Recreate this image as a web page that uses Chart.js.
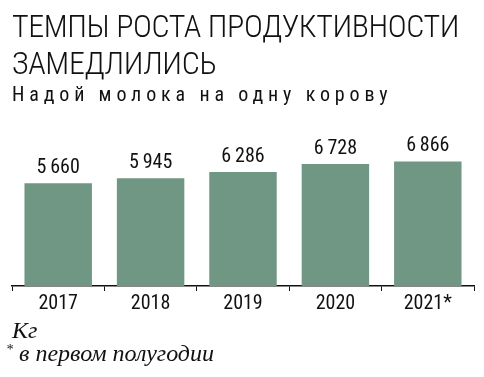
<!DOCTYPE html>
<html>
<head>
<meta charset="utf-8">
<script src="https://cdn.jsdelivr.net/npm/chart.js@4"></script>
<style>
  html, body { margin: 0; padding: 0; background: #fff; }
  #wrap { position: relative; width: 484px; height: 377px; overflow: hidden; }
  #title {
    position: absolute; left: 12px; top: 8px; white-space: nowrap;
    font-family: "Roboto Condensed", "Liberation Sans Narrow", sans-serif;
    font-size: 32px; line-height: 37px; color: #111; font-weight: 300;
    letter-spacing: -0.4px;
  }
  #sub {
    position: absolute; left: 12px; top: 82px; white-space: nowrap;
    font-family: "Roboto Condensed", sans-serif;
    font-size: 20px; letter-spacing: 4.85px; color: #111;
  }
  #unit, #note {
    position: absolute; left: 12px; white-space: nowrap;
    font-family: "Liberation Serif", "DejaVu Serif", serif; font-style: italic;
    font-size: 24px; color: #111;
  }
  #unit { top: 317px; }
  #note { top: 340px; left: 6px; }
  #note sup { font-size: 14px; vertical-align: 7px; }
  canvas { position: absolute; left: 0; top: 0; }
</style>
</head>
<body>
<div id="wrap">
  <canvas id="chart" width="484" height="377"></canvas>
  <div id="title">ТЕМПЫ РОСТА ПРОДУКТИВНОСТИ<br>ЗАМЕДЛИЛИСЬ</div>
  <div id="sub">Надой молока на одну корову</div>
  <div id="unit">Кг</div>
  <div id="note"><sup>*</sup> в первом полугодии</div>
</div>
<script>
const years = ["2017", "2018", "2019", "2020", "2021*"];
const yields = [5660, 5945, 6286, 6728, 6866];

const fmtNum = (n) => String(n).replace(/\B(?=(\d{3})+(?!\d))/g, "\u2009");
const narrow = '"Roboto Condensed", sans-serif';

// value labels above each bar
const valueLabels = {
  id: "valueLabels",
  afterDatasetsDraw(chart) {
    const { ctx } = chart;
    const meta = chart.getDatasetMeta(0);
    ctx.save();
    ctx.font = `20px ${narrow}`;
    ctx.fillStyle = "#111";
    ctx.textAlign = "center";
    ctx.textBaseline = "bottom";
    meta.data.forEach((bar, i) => {
      ctx.fillText(fmtNum(chart.data.datasets[0].data[i]), bar.x, bar.y - 5);
    });
    ctx.restore();
  }
};

const ctx = document.getElementById("chart").getContext("2d");
new Chart(ctx, {
  type: "bar",
  data: {
    labels: years,
    datasets: [{
      data: yields,
      backgroundColor: "#709684",
      borderWidth: 0,
      barPercentage: 0.73,
      categoryPercentage: 1
    }]
  },
  options: {
    responsive: false,
    animation: false,
    layout: { padding: { left: 12, right: 10, top: 110, bottom: 60 } },
    plugins: { legend: { display: false }, tooltip: { enabled: false } },
    scales: {
      x: {
        grid: { display: true, drawOnChartArea: false, color: "#111", tickLength: 5, lineWidth: 1 },
        border: { display: true, color: "#111", width: 1.5 },
        ticks: { color: "#111", font: { family: narrow, size: 20 }, padding: 1, maxRotation: 0 }
      },
      y: { display: false, min: 0, max: 9700 }
    }
  },
  plugins: [valueLabels]
});
</script>
</body>
</html>
